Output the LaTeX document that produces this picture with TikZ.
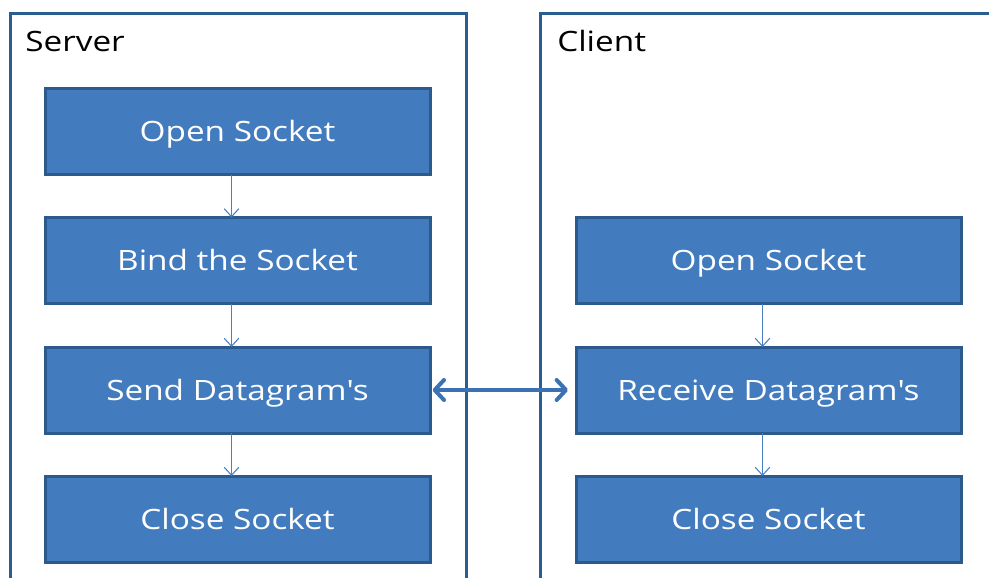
\documentclass[tikz,border=0pt]{standalone}
\usepackage{fontspec}
\setmainfont{Open Sans}[FakeStretch=1.19]
\usetikzlibrary{arrows.meta}
\definecolor{framec}{HTML}{2A5D90}
\definecolor{boxfill}{HTML}{427BBE}
\definecolor{boxline}{HTML}{2C5A8C}
\definecolor{arrowc}{HTML}{4A80C0}
\definecolor{linkc}{HTML}{3A72B4}
\tikzset{
  stepbox/.style={draw=boxline, fill=boxfill, line width=2.25pt, inner sep=0pt, outer sep=0pt,
    minimum width=288.75pt, minimum height=64.5pt, text height=15pt, text depth=0pt,
    text=white, font=\fontsize{21}{24}\selectfont},
  frame/.style={draw=framec, line width=2.25pt},
  flow/.style={draw=arrowc, line width=0.8pt, -{Straight Barb[length=6pt,width=11pt,line width=0.8pt]}},
  link/.style={draw=linkc, line width=3pt, line cap=round,
    {Straight Barb[length=7pt,width=15pt,line width=3pt,round]}-{Straight Barb[length=7pt,width=15pt,line width=3pt,round]}},
  title/.style={anchor=west, inner sep=0pt, text height=15pt, text depth=0pt, font=\fontsize{21}{24}\selectfont}
}
\begin{document}
\begin{tikzpicture}[x=0.75pt, y=-0.75pt]
\useasboundingbox (0,0) rectangle (989,578);
\clip (0,0) rectangle (989,578);
% swimlane frames
\draw[frame] (10,600) -- (10,13) -- (466,13) -- (466,600);
\draw[frame] (540,600) -- (540,13) -- (1000,13);
\node[title] (srv) at (25,41.5) {Server};
\node[title] (cli) at (557,41.5) {Client};
% server steps
\node[stepbox] (s1) at (237.5,131.5) {Open Socket};
\node[stepbox] (s2) at (237.5,260.5) {Bind the Socket};
\node[stepbox] (s3) at (237.5,390) {Send Datagram\textquotesingle s};
\node[stepbox] (s4) at (237.5,519) {Close Socket};
% client steps
\node[stepbox] (c1) at (768.5,260.5) {Open Socket};
\node[stepbox] (c2) at (768.5,390) {Receive Datagram\textquotesingle s};
\node[stepbox] (c3) at (768.5,519) {Close Socket};
% sequence arrows
\draw[flow] ([xshift=-4.5pt]s1.south) -- ([xshift=-4.5pt]s2.north);
\draw[flow] ([xshift=-4.5pt]s2.south) -- ([xshift=-4.5pt]s3.north);
\draw[flow] ([xshift=-4.5pt]s3.south) -- ([xshift=-4.5pt]s4.north);
\draw[flow] ([xshift=-4.5pt]c1.south) -- ([xshift=-4.5pt]c2.north);
\draw[flow] ([xshift=-4.5pt]c2.south) -- ([xshift=-4.5pt]c3.north);
% datagram exchange
\draw[link] ([xshift=2pt]s3.east) -- ([xshift=-6pt]c2.west);
\end{tikzpicture}
\end{document}
